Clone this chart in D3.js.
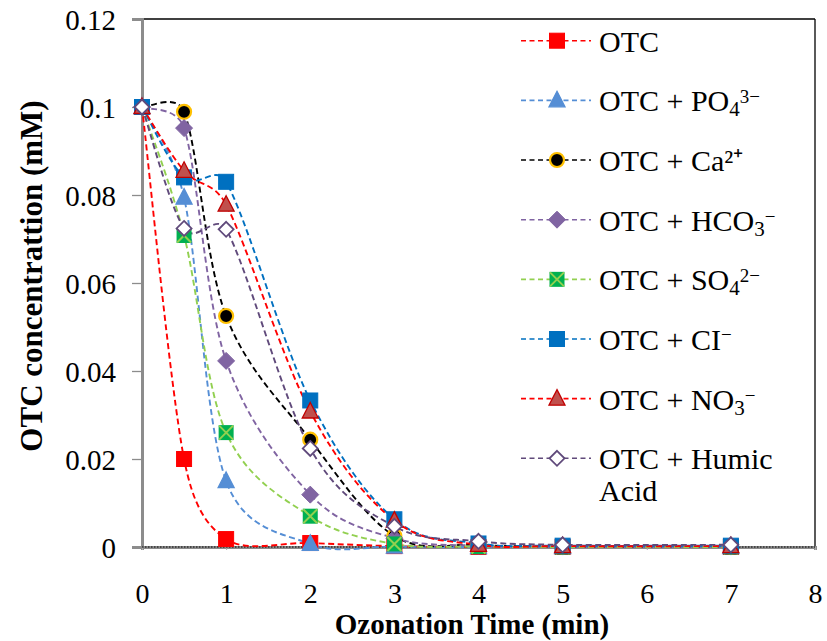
<!DOCTYPE html>
<html><head><meta charset="utf-8">
<script src="https://cdn.jsdelivr.net/npm/d3@7"></script>
<style>body{margin:0;background:#fff}svg{display:block}</style>
</head><body><svg id="c" width="827" height="641"></svg>
<script>
const times = [0, 0.5, 1, 2, 3, 4, 5, 7];
const otc      = [0.1, 0.0200, 0.0018, 0.0009, 0.0002, 0.0000, 0.0000, 0.0000];
const po4      = [0.1, 0.0794, 0.0150, 0.0007, 0.0001, 0.0000, 0.0000, 0.0000];
const ca       = [0.1, 0.0989, 0.0525, 0.0244, 0.0025, 0.0005, 0.0001, 0.0001];
const hco3     = [0.1, 0.0952, 0.0423, 0.0119, 0.0020, 0.0003, 0.0001, 0.0001];
const so4      = [0.1, 0.0708, 0.0260, 0.0070, 0.0007, 0.0001, 0.0000, 0.0000];
const cl       = [0.1, 0.0840, 0.0830, 0.0333, 0.0063, 0.0008, 0.0003, 0.0003];
const no3      = [0.1, 0.0855, 0.0778, 0.0308, 0.0060, 0.0005, 0.0002, 0.0002];
const humic    = [0.1, 0.0724, 0.0722, 0.0224, 0.0047, 0.0013, 0.0005, 0.0005];
const xTicks = [0,1,2,3,4,5,6,7,8];
const yTicks = [0,0.02,0.04,0.06,0.08,0.1,0.12];
const yTickLabels = ["0","0.02","0.04","0.06","0.08","0.1","0.12"];

const series = [
  {label:[["OTC"]], values:otc, line:"#FF0000", marker:"square", fill:"#FF0000", stroke:"#FF0000"},
  {label:[["OTC + PO"],["4","sub"],["3\u2212","supAfterSub"]], values:po4, line:"#558ED5", marker:"triangle", fill:"#558ED5", stroke:"#558ED5"},
  {label:[["OTC + Ca"],["\u00B2\u207A","plain"]], values:ca, line:"#000000", marker:"circle", fill:"#000000", stroke:"#FFC000"},
  {label:[["OTC + HCO"],["3","sub"],["\u2212","supAfterSub"]], values:hco3, line:"#8064A2", marker:"diamond", fill:"#8064A2", stroke:"#8064A2"},
  {label:[["OTC + SO"],["4","sub"],["2\u2212","supAfterSub"]], values:so4, line:"#92D050", marker:"xsquare", fill:"#00B050", stroke:"#92D050"},
  {label:[["OTC + CI"],["\u2212","sup"]], values:cl, line:"#0070C0", marker:"square", fill:"#0070C0", stroke:"#0070C0"},
  {label:[["OTC + NO"],["3","sub"],["\u2212","supAfterSub"]], values:no3, line:"#FF0000", marker:"triangle", fill:"#C0504D", stroke:"#C00000"},
  {label:[["OTC + Humic"]], label2:"Acid", values:humic, line:"#604A7B", marker:"odiamond", fill:"#FFFFFF", stroke:"#604A7B"}
];

const FONT = "Liberation Serif";
const svg = d3.select("#c");
const L=142, R=815, T=19, B=547;
const x = d3.scaleLinear().domain([0,8]).range([L,R]);
const y = d3.scaleLinear().domain([0,0.12]).range([B,T]);

svg.append("line").attr("x1",L).attr("x2",R).attr("y1",T).attr("y2",T).attr("stroke","#000").attr("stroke-width",1.3);
svg.append("line").attr("x1",R).attr("x2",R).attr("y1",T).attr("y2",B).attr("stroke","#000").attr("stroke-width",1.3);

const ya = svg.append("g").attr("transform",`translate(${L},0)`)
  .call(d3.axisLeft(y).tickValues(yTicks).tickFormat((d,i)=>yTickLabels[i]).tickSize(10).tickPadding(16));
ya.attr("font-family",FONT);
ya.select(".domain").attr("stroke","#8c8c8c").attr("stroke-width",3);
ya.selectAll(".tick line").attr("stroke","#8c8c8c").attr("stroke-width",1.3);
ya.selectAll(".tick text").attr("font-size",29).attr("fill","#000").attr("font-family",FONT).attr("dy","0.36em");

const xa = svg.append("g").attr("transform",`translate(0,${B})`)
  .call(d3.axisBottom(x).tickValues(xTicks).tickFormat(d3.format("d")).tickSize(3).tickPadding(0));
xa.attr("font-family",FONT);
xa.select(".domain").attr("stroke","#8c8c8c").attr("stroke-width",3);
xa.selectAll(".tick line").attr("stroke","#aaa").attr("stroke-width",1);
xa.selectAll(".tick text").attr("font-size",28).attr("fill","#000").attr("font-family",FONT).attr("dy",null).attr("y",56);
svg.append("line").attr("x1",L).attr("x2",R).attr("y1",B).attr("y2",B).attr("stroke","#000").attr("stroke-width",1).attr("stroke-dasharray","1.5,1.5");

svg.append("text").attr("x",472).attr("y",634).attr("text-anchor","middle").attr("font-size",29).attr("font-weight","bold").attr("font-family",FONT).text("Ozonation Time (min)");
svg.append("text").attr("transform",`translate(42,276) rotate(-90)`).attr("text-anchor","middle").attr("font-size",31).attr("font-weight","bold").attr("font-family",FONT).text("OTC concentrattion (mM)");

// Excel-style smoothed line (Bezier with 1/6 tangents, clipped)
function smoothPath(vals){
  const P = vals.map((v,i)=>[x(times[i]), y(v)]);
  const p = d3.path();
  const dist=(a,b)=>Math.hypot(a[0]-b[0],a[1]-b[1]);
  p.moveTo(P[0][0],P[0][1]);
  for(let i=0;i<P.length-1;i++){
    const p0 = P[Math.max(0,i-1)], p1=P[i], p2=P[i+1], p3=P[Math.min(P.length-1,i+2)];
    let f1=1/6, f2=1/6;
    const d02=dist(p0,p2), d12=dist(p1,p2), d13=dist(p1,p3);
    if(d02>0 && d02/6 >= d12/2) f1 = d12/(2*d02);
    if(d13>0 && d13/6 >= d12/2) f2 = d12/(2*d13);
    const c1=[p1[0]+(p2[0]-p0[0])*f1, p1[1]+(p2[1]-p0[1])*f1];
    const c2=[p2[0]-(p3[0]-p1[0])*f2, p2[1]-(p3[1]-p1[1])*f2];
    p.bezierCurveTo(c1[0],c1[1],c2[0],c2[1],p2[0],p2[1]);
  }
  return p.toString();
}

function drawMarker(g, s, cx, cy){
  const m = s.marker;
  if(m==="square"){
    g.append("rect").attr("x",cx-7.5).attr("y",cy-7.5).attr("width",15).attr("height",15).attr("fill",s.fill).attr("stroke",s.stroke).attr("stroke-width",1);
  } else if(m==="triangle"){
    g.append("path").attr("d",`M${cx},${cy-9}L${cx+8},${cy+6.5}L${cx-8},${cy+6.5}Z`).attr("fill",s.fill).attr("stroke",s.stroke).attr("stroke-width",1.3);
  } else if(m==="circle"){
    g.append("circle").attr("cx",cx).attr("cy",cy).attr("r",7).attr("fill",s.fill).attr("stroke",s.stroke).attr("stroke-width",2.2);
  } else if(m==="diamond"){
    g.append("path").attr("d",`M${cx},${cy-8.5}L${cx+8.5},${cy}L${cx},${cy+8.5}L${cx-8.5},${cy}Z`).attr("fill",s.fill).attr("stroke",s.stroke);
  } else if(m==="odiamond"){
    g.append("path").attr("d",`M${cx},${cy-7.5}L${cx+7.5},${cy}L${cx},${cy+7.5}L${cx-7.5},${cy}Z`).attr("fill",s.fill).attr("stroke",s.stroke).attr("stroke-width",1.8);
  } else if(m==="xsquare"){
    g.append("rect").attr("x",cx-7.5).attr("y",cy-7.5).attr("width",15).attr("height",15).attr("fill",s.fill);
    g.append("path").attr("d",`M${cx-7},${cy-7}L${cx+7},${cy+7}M${cx+7},${cy-7}L${cx-7},${cy+7}`).attr("stroke",s.stroke).attr("stroke-width",2);
  }
}

const plot = svg.append("g");
series.forEach(s=>{
  plot.append("path").attr("d",smoothPath(s.values)).attr("fill","none").attr("stroke",s.line).attr("stroke-width",1.9).attr("stroke-dasharray","6,3.5");
});
series.forEach(s=>{
  const g = plot.append("g");
  s.values.forEach((v,i)=>drawMarker(g,s,x(times[i]),y(v)));
});

const lg = svg.append("g");
series.forEach((s,k)=>{
  const cy = 40.7 + k*59.66;
  lg.append("line").attr("x1",521).attr("x2",591).attr("y1",cy).attr("y2",cy).attr("stroke",s.line).attr("stroke-width",1.6).attr("stroke-dasharray","5,3.5");
  drawMarker(lg,s,557,cy);
  const t = lg.append("text").attr("x",599).attr("y",cy+11).attr("font-size",30).attr("font-family",FONT);
  s.label.forEach(p=>{
    const sp = t.append("tspan").text(p[0]);
    if(p[1]==="sub") sp.attr("font-size",21).attr("dy",5);
    if(p[1]==="supAfterSub") sp.attr("font-size",19).attr("dy",-13);
    if(p[1]==="sup") sp.attr("font-size",19).attr("dy",-9);
  });
  if(s.label2) lg.append("text").attr("x",599).attr("y",cy+43).attr("font-size",30).attr("font-family",FONT).text(s.label2);
});
</script></body></html>
